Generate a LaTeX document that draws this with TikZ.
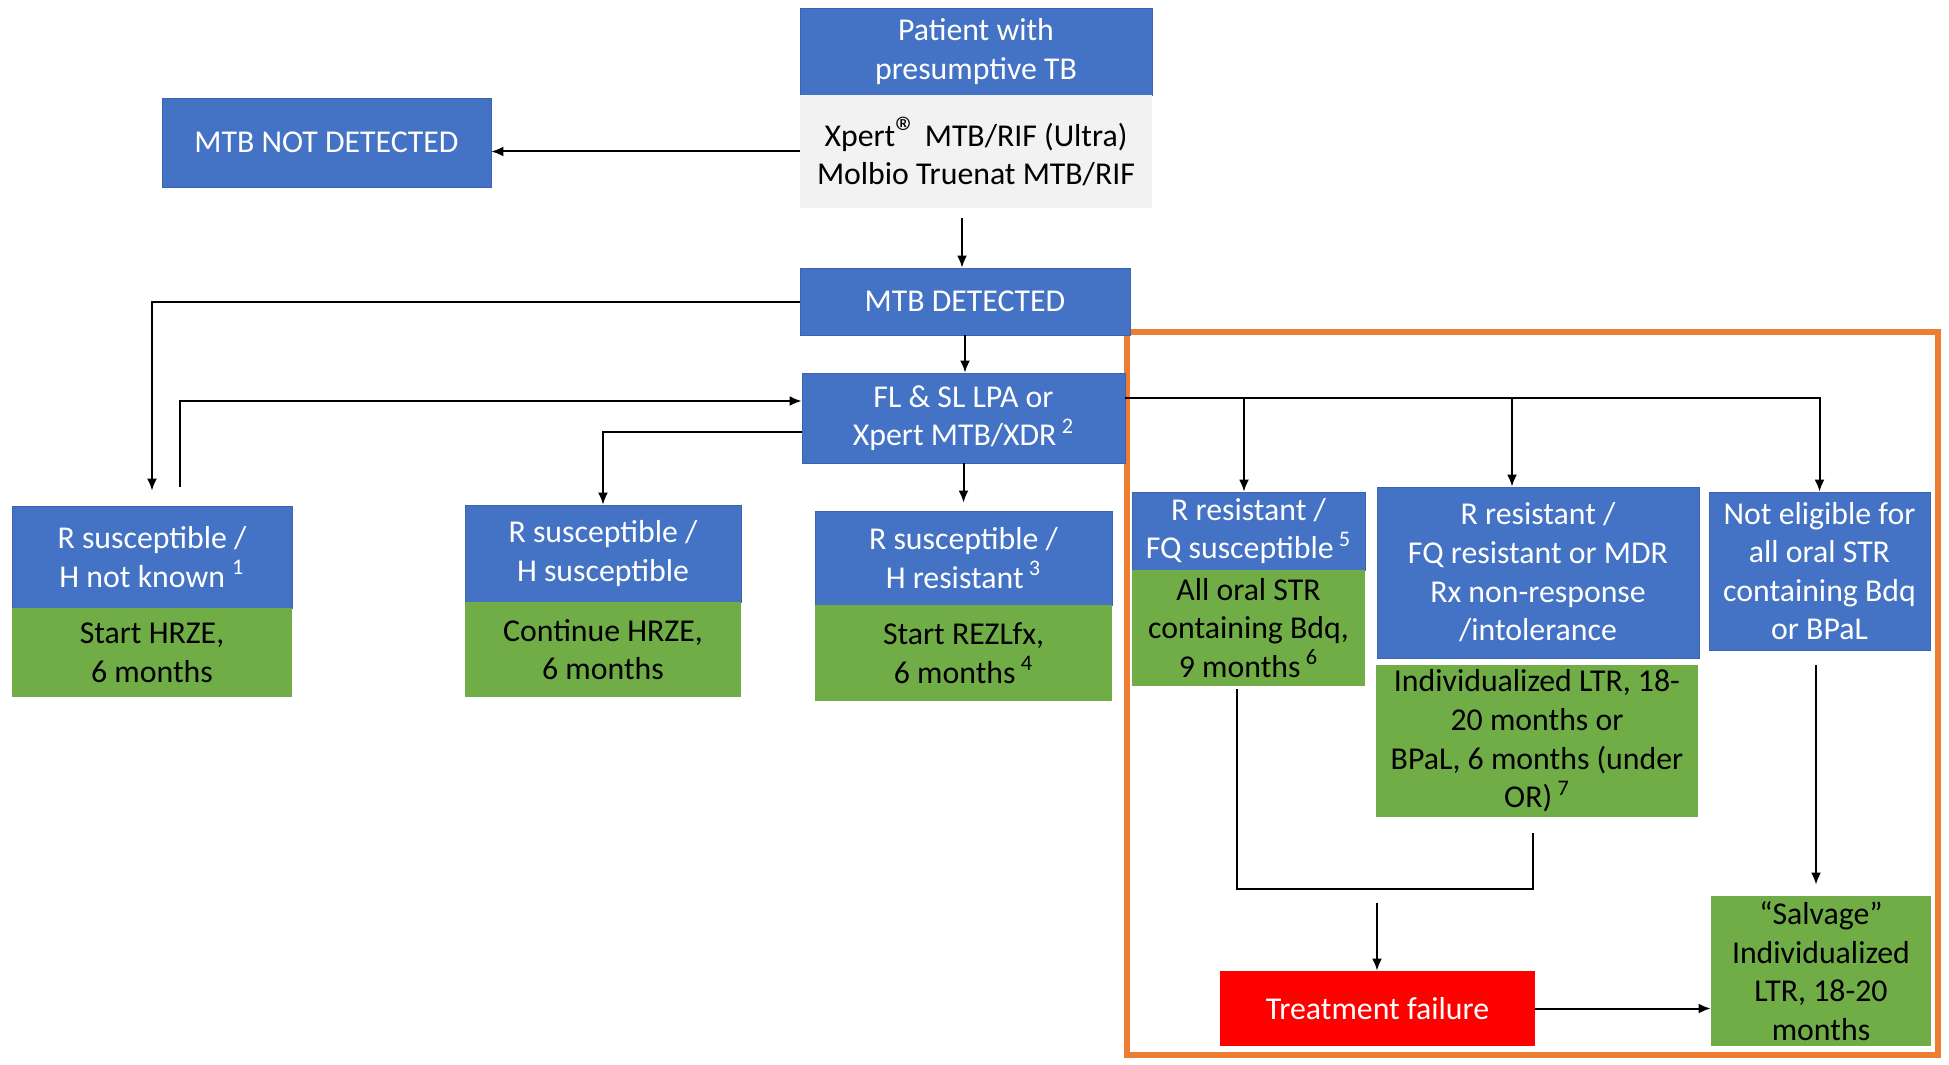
\documentclass[tikz,border=0pt]{standalone}
\usepackage{fontspec}
\setmainfont{Carlito}
\usetikzlibrary{arrows.meta,calc}
\definecolor{myblue}{HTML}{4472C4}
\definecolor{myblueb}{HTML}{3A64B0}
\definecolor{mygreen}{HTML}{70AD47}
\definecolor{mygrey}{HTML}{F2F2F2}
\definecolor{myred}{HTML}{FF0000}
\definecolor{myorange}{HTML}{ED7D31}
\newcommand{\sx}[1]{\textsuperscript{#1}}
\tikzset{
  base/.style={inner sep=0pt, align=center, font=\fontsize{15.9}{19.3}\selectfont},
  bbox/.style={base, fill=myblue, draw=myblueb, line width=0.4pt, text=white},
  gbox/.style={base, fill=mygreen, text=black},
  greybox/.style={base, fill=mygrey, text=black},
  rbox/.style={base, fill=myred, text=white},
  conn/.style={draw=black, line width=1pt},
  arr/.style={conn, -{Latex[length=6pt,width=5pt]}},
}
\begin{document}
\begin{tikzpicture}[x=0.5pt,y=-0.5pt]
\useasboundingbox (0,0) rectangle (1949,1065);

% orange region
\node[draw=myorange, line width=2.6pt, inner sep=0pt, minimum width=405.5pt, minimum height=361.5pt] (region) at (1532.5,693.5) {};

% top
\node[bbox, minimum width=176pt, minimum height=43.5pt] (patient) at (976,51.5) {Patient with\\presumptive TB};
\node[greybox, minimum width=176pt, minimum height=56.5pt] (test) at (976,151.5) {Xpert{\fontsize{22}{22}\selectfont\raisebox{-0.5pt}{®}} MTB/RIF (Ultra)\\Molbio Truenat MTB/RIF};
\node[bbox, minimum width=164.5pt, minimum height=44.5pt] (notdet) at (326.5,142.5) {MTB NOT DETECTED};
\node[bbox, minimum width=165pt, minimum height=33.5pt] (det) at (965,301.5) {MTB DETECTED};
\node[bbox, minimum width=161.5pt, minimum height=45pt] (lpa) at (963.5,418) {FL \& SL LPA or\\Xpert MTB/XDR\,\sx{2}};

% left branch boxes
\node[bbox, minimum width=140pt, minimum height=51pt] (hnk) at (152,557) {R susceptible /\\H not known \sx{1}};
\node[gbox, minimum width=140pt, minimum height=44.5pt] (hnkg) at (152,652.5) {Start HRZE,\\6 months};
\node[bbox, minimum width=138pt, minimum height=48.5pt] (hs) at (603,553.5) {R susceptible /\\H susceptible};
\node[gbox, minimum width=138pt, minimum height=47.5pt] (hsg) at (603,649.5) {Continue HRZE,\\6 months};
\node[bbox, minimum width=148.5pt, minimum height=47pt] (hr) at (963.5,558) {R susceptible /\\H resistant\,\sx{3}};
\node[gbox, minimum width=148.5pt, minimum height=48pt] (hrg) at (963.5,653) {Start REZLfx,\\6 months\,\sx{4}};

% right branch boxes
\node[bbox, minimum width=116.5pt, minimum height=39pt] (fs) at (1248.5,531) {R resistant /\\FQ susceptible\,\sx{5}};
\node[gbox, minimum width=116.5pt, minimum height=58pt] (fsg) at (1248.5,628) {All oral STR\\containing Bdq,\\9 months\,\sx{6}};
\node[bbox, minimum width=161pt, minimum height=85.5pt] (fr) at (1538,572.5) {R resistant /\\FQ resistant or MDR\\Rx non-response\\/intolerance};
\node[gbox, minimum width=161pt, minimum height=76pt] (frg) at (1537,741) {Individualized LTR, 18-\\20 months or\\BPaL, 6 months (under\\OR)\,\sx{7}};
\node[bbox, minimum width=110.5pt, minimum height=79pt] (ne) at (1819.5,571) {Not eligible for\\all oral STR\\containing Bdq\\or BPaL};
\node[rbox, minimum width=157.5pt, minimum height=37.5pt] (tf) at (1377.5,1008.5) {Treatment failure};
\node[gbox, minimum width=110pt, minimum height=75pt] (salv) at (1821,971) {“Salvage”\\Individualized\\LTR, 18-20\\months};

% helper coordinates
\coordinate (c1) at (962,218);
\coordinate (y401) at (0,401);
\coordinate (y432) at (0,432);
\coordinate (y398) at (0,398);
\coordinate (k2) at (180,487);
\coordinate (b1) at (1244,398);
\coordinate (b2) at (1512,398);
\coordinate (m1) at (1237,689);
\coordinate (m2) at (1533,833);
\coordinate (m3) at (1533,889);
\coordinate (m4) at (1377,903);
\coordinate (n1) at (1816,665);

% connectors
\draw[arr] (test.west) -- (test.west -| notdet.east);
\draw[arr] (c1) -- (c1 |- det.north);
\draw[arr] (det.south) -- (det.south |- lpa.north);
\draw[arr, shorten >=7.5pt] (det.west) -| (hnk.north);
\draw[arr] (k2) |- (lpa.west |- y401);
\draw[arr] (lpa.west |- y432) -| (hs.north);
\draw[arr, shorten >=4pt] (lpa.south) -- (lpa.south |- hr.north);
\draw[arr] (lpa.east |- y398) -| (ne.north);
\draw[arr] (b1) -- (b1 |- fs.north);
\draw[arr] (b2) -- (b2 |- fr.north);
\draw[conn] (m1) |- (m3) -- (m2);
\draw[arr] (m4) -- (m4 |- tf.north);
\draw[arr] (tf.east) -- (tf.east -| salv.west);
\draw[arr, shorten >=5.5pt] (n1) -- (n1 |- salv.north);
\end{tikzpicture}
\end{document}
